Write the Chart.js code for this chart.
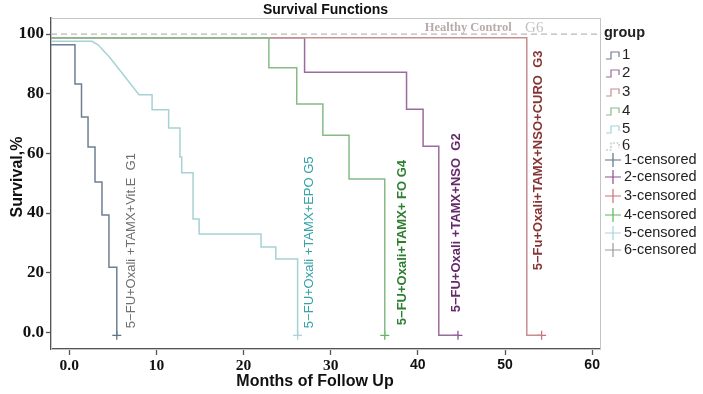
<!DOCTYPE html>
<html>
<head>
<meta charset="utf-8">
<script src="https://cdn.jsdelivr.net/npm/chart.js@4/dist/chart.umd.min.js"></script>
<style>
  html, body { margin: 0; padding: 0; background: #fff; }
  #survChart { display: block; }
</style>
</head>
<body>
<canvas id="survChart" width="703" height="394"></canvas>
<script>
// Kaplan-Meier curves (months, survival %)
// groups 1-4: event times and survival after each event (step curves)
var g1Time = [-2.1, 0.65, 1.4, 2.15, 2.95, 3.75, 4.55, 5.45];
var g1Surv = [96.4, 83.3, 72.2, 62.1, 50.4, 39.3, 21.8, -1];
var g2Time = [-2.1, 27.0, 38.7, 40.6, 42.4, 44.6];
var g2Surv = [98.8, 87.2, 74.8, 62.4, -1, -1];
var g3Time = [-2.1, 52.5, 54.2];
var g3Surv = [98.8, -1, -1];
var g4Time = [-2.1, 22.9, 26.1, 29.1, 32.1, 36.2];
var g4Surv = [98.8, 88.7, 76.6, 66.1, 51.4, -1];
// group 5 drawn as vertices (it has a sloped part)
var g5Time = [-2.1, 2.6, 3.3, 4.7, 8.0, 9.5, 9.5, 11.4, 11.4, 12.7, 12.7, 12.9, 12.9, 14.2, 14.2, 14.9, 14.9, 22.0, 22.0, 23.7, 23.7, 26.2, 26.2];
var g5Surv = [97.6, 97.6, 96.4, 92.0, 79.7, 79.7, 74.6, 74.6, 68.5, 68.5, 58.8, 58.8, 53.5, 53.5, 38.0, 38.0, 33.0, 33.0, 28.6, 28.6, 24.6, 24.6, -1];
// group 6 healthy control
var g6Time = [-2.1, 60.9];
var g6Surv = [100, 100];
// censored marks
var censTime = [5.45, 26.2, 36.2, 44.6, 54.2];
var censSurv = [-1, -1, -1, -1, -1];
var censGroup = [1, 5, 4, 2, 3];

var xTicks = [0, 10, 20, 30, 40, 50, 60];
var yTicks = [0, 20, 40, 60, 80, 100];
var groups = ['1', '2', '3', '4', '5', '6'];

var colors = { 1: '#6f7f93', 2: '#9a6c9e', 3: '#c88e8e', 4: '#86bb86', 5: '#a6d2d6', 6: '#b8b8b8' };
var censColors = { 1: '#5b7384', 2: '#8e4f8e', 3: '#c97373', 4: '#5cb85c', 5: '#a9d3dc', 6: '#9a9a9a' };

function pts(t, s) {
  return t.map(function (v, i) { return { x: v, y: s[i] }; });
}

var SANS = '"Liberation Sans", Arial, sans-serif';
var SERIF = '"Liberation Serif", "Times New Roman", serif';

function lineSet(label, t, s, col, stepped) {
  return {
    label: label, data: pts(t, s), borderColor: col, borderWidth: 1.5,
    pointRadius: 0, stepped: stepped, fill: false, tension: 0
  };
}

var datasets = [
  lineSet('6', g6Time, g6Surv, colors[6], false),
  lineSet('5', g5Time, g5Surv, colors[5], false),
  lineSet('4', g4Time, g4Surv, colors[4], true),
  lineSet('3', g3Time, g3Surv, colors[3], true),
  lineSet('2', g2Time, g2Surv, colors[2], true),
  lineSet('1', g1Time, g1Surv, colors[1], true),
  {
    type: 'scatter', label: 'censored', data: pts(censTime, censSurv),
    pointStyle: 'cross', pointRadius: 4.5, borderWidth: 1.3, showLine: false,
    borderColor: censGroup.map(function (g) { return censColors[g]; })
  }
];
datasets[0].borderDash = [6, 4];
datasets[0].borderWidth = 1.2;

// text on the plot: [text, x month, y value, color, weight]
var annos = [
  ['5\u2212FU+Oxali +TAMX+Vit.E  G1', 7.1, 1.4, '#707070', 'normal'],
  ['5\u2212FU+Oxali +TAMX+EPO G5', 27.6, 1.4, '#35a3a8', 'normal'],
  ['5\u2212FU+Oxali+TAMX+ FO G4', 38.2, 2.4, '#2f7f32', 'bold'],
  ['5\u2212FU+Oxali +TAMX+NSO  G2', 44.4, 6.7, '#652a6c', 'bold'],
  ['5\u2212Fu+Oxali+TAMX+NSO+CURO  G3', 53.8, 20.8, '#873434', 'bold']
];

var decor = {
  id: 'decor',
  beforeDatasetsDraw: function (chart) {
    var a = chart.chartArea, c = chart.ctx;
    c.save();
    c.strokeStyle = '#c4c4c4';
    c.lineWidth = 1;
    c.strokeRect(a.left + 0.5, a.top + 0.5, a.right - a.left, a.bottom - a.top);
    c.restore();
  },
  afterDraw: function (chart) {
    var c = chart.ctx, xs = chart.scales.x, ys = chart.scales.y, a = chart.chartArea;
    c.save();
    c.fillStyle = '#111';
    c.textAlign = 'center';
    c.textBaseline = 'middle';
    c.font = 'bold 14px ' + SANS;
    c.fillText('Survival Functions', (a.left + a.right) / 2, 10);
    c.font = 'bold 16px ' + SANS;
    c.fillText('Months of Follow Up', 315, 382);
    c.save();
    c.translate(18, 177);
    c.rotate(-Math.PI / 2);
    c.fillText('Survival,%', 0, 0);
    c.restore();

    // healthy control label
    c.textAlign = 'left';
    c.textBaseline = 'alphabetic';
    c.font = 'bold 12.5px ' + SERIF;
    c.fillStyle = '#b9abab';
    c.fillText('Healthy Control', xs.getPixelForValue(40.8), ys.getPixelForValue(101.1));
    c.font = '15px ' + SERIF;
    c.fillStyle = '#c2c2c2';
    c.fillText('G6', xs.getPixelForValue(52.3), ys.getPixelForValue(100.8));

    // rotated group labels
    annos.forEach(function (t) {
      c.save();
      c.translate(xs.getPixelForValue(t[1]), ys.getPixelForValue(t[2]));
      c.rotate(-Math.PI / 2);
      c.font = t[4] + ' 13px ' + SANS;
      c.fillStyle = t[3];
      c.textAlign = 'left';
      c.textBaseline = 'middle';
      c.fillText(t[0], 0, 0);
      c.restore();
    });

    // legend
    var lx = 604;
    c.fillStyle = '#222';
    c.textAlign = 'left';
    c.textBaseline = 'middle';
    c.font = 'bold 14.5px ' + SANS;
    c.fillText('group', lx, 33);
    var gy = [55, 73, 92, 111, 129, 146];
    groups.forEach(function (g, i) {
      var y = gy[i];
      c.strokeStyle = colors[g];
      c.lineWidth = 1.2;
      if (g === '6') c.setLineDash([2, 1.5]);
      c.beginPath();
      c.moveTo(lx + 2, y + 4);
      c.lineTo(lx + 7, y + 4);
      c.lineTo(lx + 7, y - 3);
      c.lineTo(lx + 15, y - 3);
      c.lineTo(lx + 15, y + 2);
      c.stroke();
      c.setLineDash([]);
      c.fillStyle = '#222';
      c.font = (g === '6' ? '16px ' + SERIF : '15px ' + SANS);
      c.fillText(g, lx + 18, y);
    });
    var cy = [160, 177, 196, 215, 233, 250];
    groups.forEach(function (g, i) {
      var y = cy[i];
      c.strokeStyle = censColors[g];
      c.lineWidth = 1.2;
      c.beginPath();
      c.moveTo(lx + 1, y); c.lineTo(lx + 17, y);
      c.moveTo(lx + 9, y - 7); c.lineTo(lx + 9, y + 7);
      c.stroke();
      c.fillStyle = '#222';
      c.font = '14.5px ' + SANS;
      c.fillText(g + '-censored', lx + 20, y);
    });
    c.restore();
  }
};

new Chart(document.getElementById('survChart'), {
  type: 'line',
  data: { datasets: datasets },
  options: {
    responsive: false,
    animation: false,
    devicePixelRatio: 1,
    layout: { padding: { top: 18, right: 103, left: 0, bottom: 0 } },
    plugins: { legend: { display: false }, tooltip: { enabled: false } },
    scales: {
      x: {
        type: 'linear', min: -2.1, max: 60.9,
        afterFit: function (s) { s.height = 45; },
        afterBuildTicks: function (s) { s.ticks = xTicks.map(function (v) { return { value: v }; }); },
        grid: { drawOnChartArea: false, tickLength: 6, color: '#555', tickWidth: 1.3 },
        border: { color: '#555', width: 1.5 },
        ticks: {
          color: '#111', padding: 2, maxRotation: 0, autoSkip: false,
          font: function (ctx) {
            var v = ctx.tick ? ctx.tick.value : 0;
            return v >= 40 ? { family: SANS, size: 14, weight: 'bold' } : { family: SERIF, size: 15.5, weight: 'bold' };
          },
          callback: function (v) { return v === 0 ? '0.0' : String(v); }
        }
      },
      y: {
        type: 'linear', min: -5.6, max: 105.4,
        afterFit: function (s) { s.width = 51; },
        afterBuildTicks: function (s) { s.ticks = yTicks.map(function (v) { return { value: v }; }); },
        grid: { drawOnChartArea: false, tickLength: 5, color: '#555', tickWidth: 1.3 },
        border: { color: '#555', width: 1.5 },
        ticks: {
          color: '#111', padding: 2,
          font: { family: SERIF, size: 17, weight: 'bold' },
          callback: function (v) { return v === 0 ? '0.0' : String(v); }
        }
      }
    }
  },
  plugins: [decor]
});
</script>
</body>
</html>
